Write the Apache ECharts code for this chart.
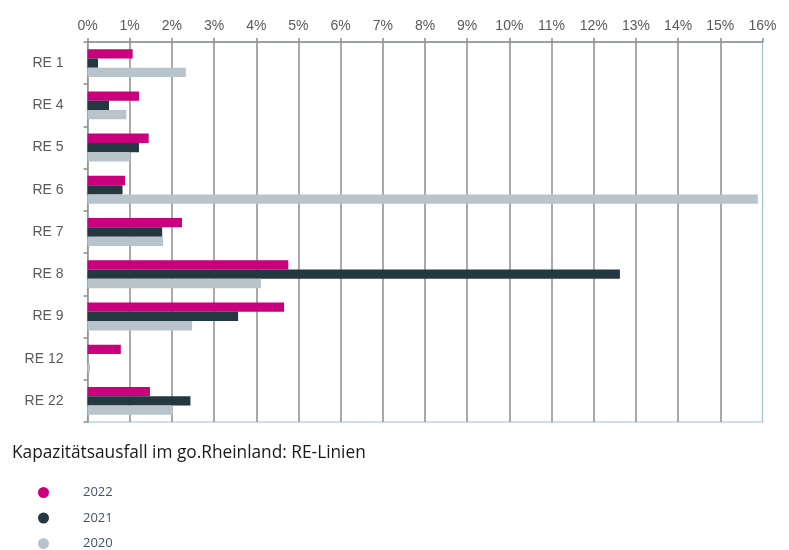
<!DOCTYPE html>
<html><head><meta charset="utf-8">
<script src="https://cdn.jsdelivr.net/npm/echarts@6/dist/echarts.min.js"></script>
<style>html,body{margin:0;padding:0;background:#fff}#c{width:789px;height:550px}</style>
</head><body><div id="c"></div>
<script>
const categories = ['RE 1','RE 4','RE 5','RE 6','RE 7','RE 8','RE 9','RE 12','RE 22'];
const v2022 = [1.07, 1.22, 1.45, 0.89, 2.24, 4.76, 4.66, 0.79, 1.48];
const v2021 = [0.25, 0.51, 1.22, 0.83, 1.77, 12.62, 3.57, 0, 2.44];
const v2020 = [2.33, 0.92, 1.01, 15.89, 1.79, 4.11, 2.48, 0.06, 2.03];
const seriesNames = ['2022','2021','2020'];
const colors = ['#c8007d','#243841','#b9c3cc'];
const title = 'Kapazitätsausfall im go.Rheinland: RE-Linien';

const chart = echarts.init(document.getElementById('c'), null, {renderer:'canvas'});
const vals = [v2022, v2021, v2020];
chart.setOption({
  animation:false,
  title:{text:title, left:7, top:440, padding:[5,5,5,5], textStyle:{fontFamily:'Open Sans', fontSize:17.3, fontWeight:'normal', color:'#1a1a1a'}},
  legend:{orient:'vertical', left:38, top:486, padding:0, height:90, itemGap:12.5, icon:'circle', itemWidth:11, itemHeight:11,
    textStyle:{fontFamily:'Open Sans', fontSize:13, color:'#44546a', padding:[0,0,0,29]},
    data:seriesNames},
  grid:{left:87.5, right:26.5, top:42, bottom:128, show:true, borderColor:'#9cc0d4', borderWidth:1.2},
  xAxis:{type:'value', position:'top', min:0, max:16, interval:1,
    axisLabel:{formatter:'{value}%', fontFamily:'Liberation Sans', fontSize:14, color:'#595959', margin:9},
    axisLine:{show:true, lineStyle:{color:'#8c8c8c', width:1.5}},
    axisTick:{show:true, length:4, lineStyle:{color:'#8c8c8c', width:1.5}},
    splitLine:{show:true, showMinLine:false, showMaxLine:false, lineStyle:{color:'#8c8c8c', width:1.5}}},
  yAxis:{type:'category', inverse:true, data:categories,
    axisLabel:{fontFamily:'Liberation Sans', fontSize:14, color:'#595959', margin:24},
    axisLine:{show:true, lineStyle:{color:'#8c8c8c', width:1.5}},
    axisTick:{show:true, length:4, lineStyle:{color:'#8c8c8c', width:1.5}}},
  series: seriesNames.map((n,i)=>({name:n, type:'bar', data:vals[i], barGap:'0%', barCategoryGap:'34%',
    itemStyle:{color:colors[i]}}))
});
</script></body></html>
